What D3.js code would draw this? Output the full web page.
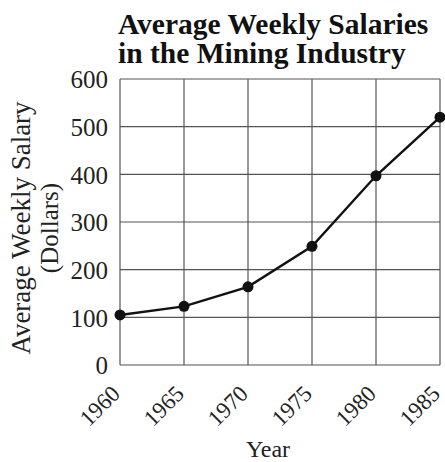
<!DOCTYPE html>
<html><head><meta charset="utf-8">
<script src="https://cdn.jsdelivr.net/npm/d3@7"></script>
<style>body{margin:0;background:#fff}svg{display:block}</style>
</head><body>
<svg id="c" width="445" height="462"></svg>
<script>
const years = [1960, 1965, 1970, 1975, 1980, 1985];
const salaries = [105, 123, 164, 249, 397, 520];
const yTicks = [0, 100, 200, 300, 400, 500, 600];
const titleLines = ["Average Weekly Salaries", "in the Mining Industry"];

const svg = d3.select("#c");
const font = "'Liberation Serif','Times New Roman',serif";
const m = {left: 120, right: 440, top: 79, bottom: 365};
const x = d3.scaleLinear().domain([1960, 1985]).range([m.left, m.right]);
const y = d3.scaleLinear().domain([0, 600]).range([m.bottom, m.top]);

// grid
const g = svg.append("g");
g.selectAll("line.v").data(years).join("line")
  .attr("x1", d => x(d)).attr("x2", d => x(d))
  .attr("y1", y(0)).attr("y2", y(600))
  .attr("stroke", "#555").attr("stroke-width", 1.2);
g.selectAll("line.h").data(yTicks).join("line")
  .attr("x1", x(1960)).attr("x2", x(1985))
  .attr("y1", d => y(d)).attr("y2", d => y(d))
  .attr("stroke", "#555").attr("stroke-width", 1.2);

// y axis labels
const yAxis = d3.axisLeft(y).tickValues(yTicks).tickSize(0).tickPadding(12);
const ya = svg.append("g").attr("transform", `translate(${m.left},0)`).call(yAxis);
ya.select(".domain").remove();
ya.selectAll("text").attr("font-family", font).attr("font-size", 25).attr("fill", "#222").attr("dy", "0.35em");

// x axis labels
const xAxis = d3.axisBottom(x).tickValues(years).tickFormat(d3.format("d")).tickSize(0);
const xa = svg.append("g").attr("transform", `translate(0,${m.bottom})`).call(xAxis);
xa.select(".domain").remove();
xa.selectAll("text").attr("font-family", font).attr("font-size", 23).attr("fill", "#222")
  .attr("text-anchor", "end").attr("x", 0).attr("y", 0).attr("dy", 0)
  .attr("transform", "translate(1,30) rotate(-45)");

// line
svg.append("path").datum(years.map((d, i) => [d, salaries[i]]))
  .attr("d", d3.line().x(d => x(d[0])).y(d => y(d[1])))
  .attr("fill", "none").attr("stroke", "#111").attr("stroke-width", 2.4);
svg.selectAll("circle.pt").data(years.map((d, i) => [d, salaries[i]])).join("circle")
  .attr("cx", d => x(d[0])).attr("cy", d => y(d[1])).attr("r", 5.5).attr("fill", "#111");

// title
svg.selectAll("text.title").data(titleLines).join("text")
  .attr("x", 118).attr("y", (d, i) => 34 + i * 29)
  .attr("font-family", font).attr("font-weight", "bold").attr("font-size", 29.5).attr("fill", "#111")
  .text(d => d);

// axis titles
svg.append("text").attr("x", 268).attr("y", 457).attr("text-anchor", "middle")
  .attr("font-family", font).attr("font-size", 24).attr("fill", "#222").text("Year");
svg.append("text").attr("transform", "translate(30,228) rotate(-90)").attr("text-anchor", "middle")
  .attr("font-family", font).attr("font-size", 27).attr("fill", "#222").text("Average Weekly Salary");
svg.append("text").attr("transform", "translate(58,228) rotate(-90)").attr("text-anchor", "middle")
  .attr("font-family", font).attr("font-size", 25).attr("fill", "#222").text("(Dollars)");
</script>
</body></html>
